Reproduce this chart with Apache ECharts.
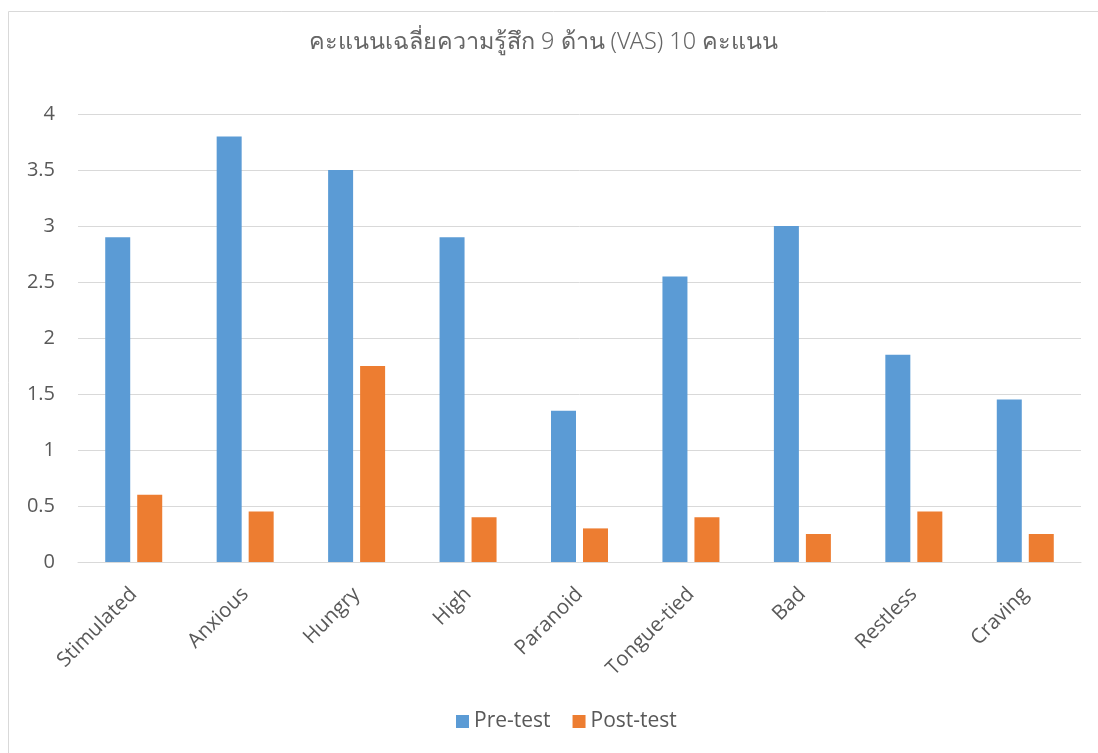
<!DOCTYPE html>
<html><head><meta charset="utf-8">
<script src="https://cdn.jsdelivr.net/npm/echarts@6/dist/echarts.min.js"></script>
<style>html,body{margin:0;padding:0;background:#fff}#c{width:1098px;height:753px}</style>
</head><body><div id="c"></div>
<script>
const categories = ['Stimulated','Anxious','Hungry','High','Paranoid','Tongue-tied','Bad','Restless','Craving'];
const preTest = [2.9, 3.8, 3.5, 2.9, 1.35, 2.55, 3.0, 1.85, 1.45];
const postTest = [0.6, 0.45, 1.75, 0.4, 0.3, 0.4, 0.25, 0.45, 0.25];
const yTicks = ['0','0.5','1','1.5','2','2.5','3','3.5','4'];
const titleText = 'คะแนนเฉลี่ยความรู้สึก 9 ด้าน (VAS) 10 คะแนน';

const chart = echarts.init(document.getElementById('c'), null, {renderer:'canvas'});
const font = '"Open Sans", "Noto Sans", sans-serif';
chart.setOption({
  animation: false,
  textStyle: {fontFamily: font},
  graphic: [{type:'rect', shape:{x:8.5, y:11.5, width:1200, height:800}, style:{fill:'none', stroke:'#d9d9d9', lineWidth:1}, silent:true}],
  title: {text: titleText, left: 304, top: 26, textStyle:{fontFamily:'"Noto Sans", "Open Sans", sans-serif', fontSize: 23.4, fontWeight: 300, color:'#666666'}},
  legend: {bottom: 16, left: 451, itemWidth: 13, itemHeight: 13, itemGap: 22, icon:'rect',
    textStyle:{fontSize:21, color:'#595959', fontFamily: font}, data:['Pre-test','Post-test']},
  grid: {left: 78, right: 17, top: 114, bottom: 191, containLabel: false},
  xAxis: {type:'category', data: categories,
    axisLine:{lineStyle:{color:'#d9d9d9', width:1}}, axisTick:{show:false},
    axisLabel:{rotate:45, fontSize:20.5, color:'#595959', margin:29, interval:0, fontFamily: font}},
  yAxis: {type:'value', min:0, max:4, interval:0.5,
    axisLine:{show:false}, axisTick:{show:false},
    splitLine:{lineStyle:{color:'#d9d9d9', width:1}},
    axisLabel:{fontSize:20, color:'#595959', margin:23, fontFamily: font,
      formatter: (v)=> yTicks[Math.round(v/0.5)]}},
  series: [
    {name:'Pre-test', type:'bar', data: preTest, barWidth: 25, barGap:'28%', itemStyle:{color:'#5b9bd5'}},
    {name:'Post-test', type:'bar', data: postTest, barWidth: 25, itemStyle:{color:'#ed7d31'}}
  ]
});
</script></body></html>
